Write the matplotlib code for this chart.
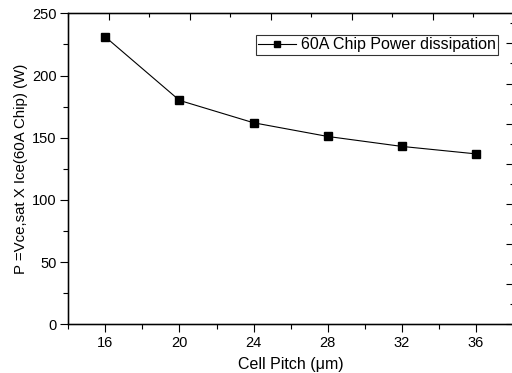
import matplotlib
matplotlib.use("Agg")
import matplotlib.pyplot as plt
from matplotlib.ticker import MultipleLocator, NullFormatter

plt.rcParams['font.family'] = ['Liberation Sans', 'DejaVu Sans']

# data
cell_pitch = [16, 20, 24, 28, 32, 36]
power = [231, 180, 162, 151, 143, 137]
series_name = "60A Chip Power dissipation"

fig = plt.figure(figsize=(5.12, 3.73), dpi=100)
ax = fig.add_axes([0.1334, 0.1306, 0.8686, 0.8337])

ax.plot(cell_pitch, power, color='black', lw=0.8, marker='s', ms=6,
        mfc='black', mec='black', label=series_name)

ax.set_xlim(14, 38)
ax.set_ylim(0, 250)
ax.xaxis.set_major_locator(MultipleLocator(4))
ax.xaxis.set_minor_locator(MultipleLocator(2))
ax.yaxis.set_major_locator(MultipleLocator(50))
ax.yaxis.set_minor_locator(MultipleLocator(25))
ax.tick_params(which='major', direction='out', length=6, width=0.8, labelsize=10.5, pad=2.5)
ax.tick_params(which='minor', direction='out', length=3.5, width=0.8)
for s in ax.spines.values():
    s.set_linewidth(1.0)

ax.set_xlabel("Cell Pitch (\u03bcm)", fontsize=11.5, labelpad=5)
ax.set_ylabel("P =Vce,sat X Ice(60A Chip) (W)", fontsize=10.8, labelpad=3)

# top and right axes, ticks only (inward)
axt = ax.twiny()
axt.set_xlim(-0.5, 4.99)
axt.xaxis.set_major_locator(MultipleLocator(1))
axt.xaxis.set_minor_locator(MultipleLocator(0.5))
axt.xaxis.set_major_formatter(NullFormatter())
axt.tick_params(which='major', direction='in', length=5, width=0.8)
axt.tick_params(which='minor', direction='in', length=3, width=0.8)

axr = ax.twinx()
axr.set_ylim(0, 7.75)
axr.yaxis.set_major_locator(MultipleLocator(1))
axr.yaxis.set_minor_locator(MultipleLocator(0.5))
axr.yaxis.set_major_formatter(NullFormatter())
axr.tick_params(which='major', direction='in', length=5, width=0.8)
axr.tick_params(which='minor', direction='in', length=2, width=0.8)

leg = ax.legend(loc='upper right', bbox_to_anchor=(0.967, 0.93), fontsize=11.5,
                frameon=True, fancybox=False, edgecolor='black',
                handlelength=2.4, handletextpad=0.3, borderpad=0.15,
                borderaxespad=0, markerscale=0.65)
leg.get_frame().set_linewidth(0.8)

fig.savefig("out.png", dpi=100)
